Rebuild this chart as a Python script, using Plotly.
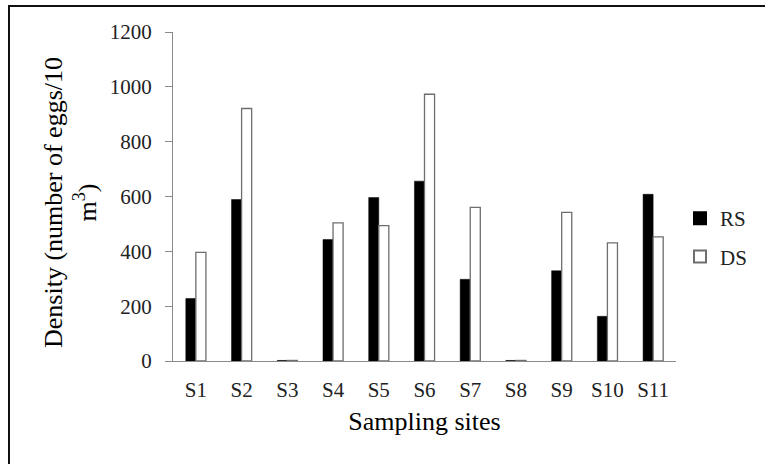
import plotly.graph_objects as go

sites = ["S1", "S2", "S3", "S4", "S5", "S6", "S7", "S8", "S9", "S10", "S11"]
rs_values = [228, 589, 2, 443, 596, 656, 298, 2, 329, 163, 608]
ds_values = [396, 921, 2, 504, 494, 973, 560, 2, 542, 431, 453]
y_ticks = [0, 200, 400, 600, 800, 1000, 1200]

W, H = 765, 464
L, R, T, B = 173, 89, 32, 103
pw, ph = W - L - R, H - T - B


def px_x(x):
    return (x - L) / pw


def px_y(y):
    return (H - B - y) / ph


FONT = "Liberation Serif, Times New Roman, serif"

fig = go.Figure()
fig.add_trace(go.Bar(
    x=sites, y=rs_values, name="RS", legendgroup="rs",
    marker=dict(color="#000000", line=dict(color="#000000", width=0.5)),
))
fig.add_trace(go.Bar(
    x=sites, y=ds_values, name="DS", legendgroup="ds",
    marker=dict(color="#ffffff", line=dict(color="#6e6e6e", width=1.3)),
))

fig.update_layout(
    width=W, height=H,
    margin=dict(l=L, r=R, t=T, b=B),
    paper_bgcolor="white", plot_bgcolor="white",
    barmode="group", bargap=0.56, bargroupgap=0,
    font=dict(family=FONT, color="#222222"),
    showlegend=True,
    legend=dict(
        x=px_x(680), y=px_y(198), xanchor="left", yanchor="top",
        font=dict(family=FONT, size=21, color="#222222"),
        tracegroupgap=8, bgcolor="rgba(0,0,0,0)",
        itemsizing="constant",
    ),
    xaxis=dict(
        showline=True, linecolor="#8a8a8a", linewidth=1,
        ticks="", showgrid=False, zeroline=False,
        ticklabelstandoff=10,
        tickfont=dict(family=FONT, size=21, color="#222222"),
        title=dict(text="Sampling sites", font=dict(family=FONT, size=26, color="#000000"),
                   standoff=10),
    ),
    yaxis=dict(
        range=[0, 1200], tickvals=y_ticks,
        showline=True, linecolor="#8a8a8a", linewidth=1,
        ticks="outside", ticklen=7, tickcolor="#8a8a8a",
        showgrid=False, zeroline=False,
        ticklabelstandoff=9,
        tickfont=dict(family=FONT, size=21, color="#222222"),
    ),
    annotations=[dict(
        text="Density (number of eggs/10<br>m<sup>3</sup>)",
        xref="paper", yref="paper", x=px_x(70), y=px_y(203),
        xanchor="center", yanchor="middle", textangle=-90, showarrow=False,
        font=dict(family=FONT, size=26, color="#000000"),
    )],
    shapes=[
        dict(type="rect", xref="paper", yref="paper",
             x0=px_x(9), x1=px_x(790), y0=px_y(6), y1=px_y(490),
             line=dict(color="#111111", width=2), fillcolor="rgba(0,0,0,0)", layer="below"),
    ],
)

fig.write_html(
    "out.html",
    config={"displayModeBar": False},
    post_script="document.body.style.margin='0';document.body.style.padding='0';",
)
